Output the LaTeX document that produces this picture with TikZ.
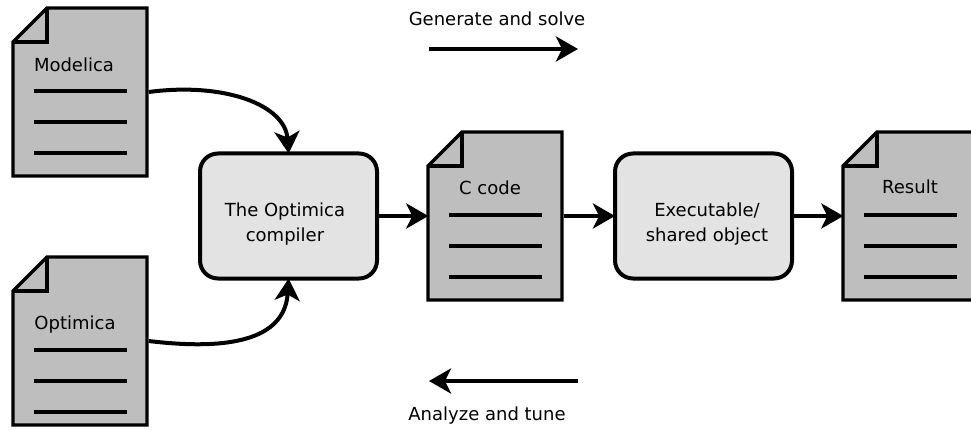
\documentclass[tikz,border=0pt]{standalone}
\usepackage{fontspec}
\setmainfont{DejaVu Sans}
\usepackage{xcolor}
\usepackage{tikz}
\usetikzlibrary{arrows.meta}
\definecolor{sheetgrey}{RGB}{190, 190, 190}
\definecolor{boxgrey}{RGB}{227, 227, 227}

\begin{document}
\begin{tikzpicture}[x=1pt, y=-1pt, line width=3.4pt,
        sheet/.style = {minimum width=134pt, minimum height=168pt, inner sep=0pt},
        main/.style = {draw=black, line width=4pt, fill=boxgrey, rounded corners=18pt, minimum width=177pt, minimum height=125pt},
        caption/.style = {font=\fontsize{18}{24.5}\selectfont, text=black, align=center},
        flow/.style = {line width=4pt, shorten >=-2pt, -{Stealth[length=22pt, width=25pt, inset=6pt]}}]
    \useasboundingbox (0,0) rectangle (971,430);
    \foreach \docname/\x/\y/\tx/\ty/\ly/\doctext in {modelica/80/92/74/65/-1/Modelica, optimica/80/341/75/325/9/Optimica, ccode/495/216/490/188/-1/C code, result/910/216/910/187/-1/Result} {
        \node[sheet] (\docname) at (\x, \y) {};
        \draw[fill=sheetgrey] (\x-67, \y-50) -- (\x-33, \y-84) -- (\x+67, \y-84) -- (\x+67, \y+84) -- (\x-67, \y+84) -- cycle;
        \draw (\x-67, \y-50) -- (\x-33, \y-50) -- (\x-33, \y-84);
        \draw (\x-46, \y+\ly) -- (\x+47, \y+\ly);
        \draw (\x-46, \y+\ly+31) -- (\x+47, \y+\ly+31);
        \draw (\x-46, \y+\ly+62) -- (\x+47, \y+\ly+62);
        \node[caption] (\docname-label) at (\tx, \ty) {\doctext};
    }
    \node[main] (compiler) at (288.5, 216) {};
    \node[main] (executable) at (703.5, 216) {};
    \node[caption] (compiler-label) at (285, 224) {The Optimica\\compiler};
    \node[caption] (executable-label) at (707, 224) {Executable/\\shared object};

    \draw[flow] (modelica.east) .. controls (225, 82) and (285, 105) .. (compiler.north);
    \draw[flow] (optimica.east) .. controls (240, 352) and (285, 335) .. (compiler.south);
    \draw[flow] (compiler.east) -- (ccode.west);
    \draw[flow] (ccode.east) -- (executable.west);
    \draw[flow] (executable.east) -- (result.west);

    \coordinate (genstart) at (429, 49);
    \coordinate (genend) at (576, 49);
    \coordinate (anastart) at (578, 381);
    \coordinate (anaend) at (431, 381);
    \draw[flow] (genstart) -- (genend);
    \draw[flow] (anastart) -- (anaend);
    \node[caption] (generate) at (497, 19) {Generate and solve};
    \node[caption] (analyze) at (487, 416) {Analyze and tune};
\end{tikzpicture}
\end{document}
